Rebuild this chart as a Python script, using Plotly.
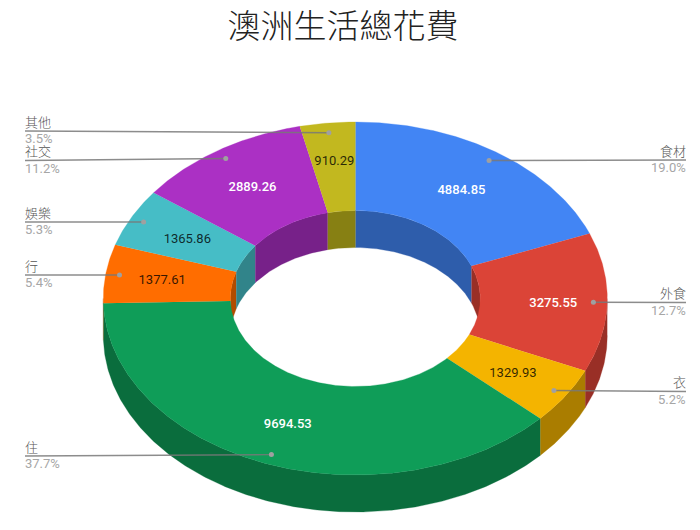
import numpy as np
import plotly.graph_objects as go

# data
categories = ["食材", "外食", "衣", "住", "行", "娛樂", "社交", "其他"]
values = [4884.85, 3275.55, 1329.93, 9694.53, 1377.61, 1365.86, 2889.26, 910.29]
value_labels = ["4884.85", "3275.55", "1329.93", "9694.53", "1377.61", "1365.86", "2889.26", "910.29"]
percent_labels = ["19.0%", "12.7%", "5.2%", "37.7%", "5.4%", "5.3%", "11.2%", "3.5%"]
title_text = "澳洲生活總花費"

# styles
face_colors = ["#4285f4", "#db4437", "#f4b400", "#0f9d58", "#ff6d00", "#46bdc6", "#ab30c4", "#c2b81f"]
wall_colors = ["#2e5dab", "#992f26", "#aa7d00", "#0a6d3d", "#b24c00", "#31848a", "#772189", "#878013"]
value_colors = ["#ffffff", "#ffffff", "rgba(0,0,0,0.8)", "#ffffff", "rgba(0,0,0,0.8)", "rgba(0,0,0,0.8)", "#ffffff", "rgba(0,0,0,0.8)"]

# geometry (px)
CX, CY = 355.3, 298.5
RX, RY = 252.0, 176.5
HOLE_RX, HOLE_RY = 125.0, 88.0
DEPTH = 37.0
LABEL_F, DOT_F = 0.75, 0.945
LEFT_X, RIGHT_X = 25, 686
label_sides = ["r", "r", "r", "l", "l", "l", "l", "l"]
label_line_y = [160, 302.5, 391.5, 456, 275, 222, 160.5, 131]
value_nudge_x = [0, 9, 0, -1, -6, 0, 0, 0]
value_nudge_y = [2, 2, 2, 2, 1, 2, 0, -5]


def pt(theta, rx, ry, dy=0.0):
    t = np.radians(theta)
    return CX + rx * np.sin(t), CY - ry * np.cos(t) + dy


def arc(a, b, rx, ry, dy=0.0):
    n = max(2, int(abs(b - a) * 2) + 2)
    return pt(np.linspace(a, b, n), rx, ry, dy)


total = sum(values)
edges = np.concatenate([[0.0], np.cumsum(values) / total * 360.0])

fig = go.Figure()


def poly(xs, ys, color):
    fig.add_trace(go.Scatter(x=np.asarray(xs), y=np.asarray(ys), mode="lines", fill="toself",
                             fillcolor=color, line=dict(color=color, width=0.3),
                             hoverinfo="skip", showlegend=False))


# outer walls: front half, 90..270
for i in range(len(values)):
    a, b = max(edges[i], 90.0), min(edges[i + 1], 270.0)
    if b > a:
        x1, y1 = arc(a, b, RX, RY)
        x2, y2 = arc(b, a, RX, RY, DEPTH)
        poly(np.r_[x1, x2], np.r_[y1, y2], wall_colors[i])

# inner walls: back half of the hole, 270..360 and 0..90
for i in range(len(values)):
    for lo, hi in ((0.0, 90.0), (270.0, 360.0)):
        a, b = max(edges[i], lo), min(edges[i + 1], hi)
        if b > a:
            x1, y1 = arc(a, b, HOLE_RX, HOLE_RY)
            x2, y2 = arc(b, a, HOLE_RX, HOLE_RY, DEPTH)
            poly(np.r_[x1, x2], np.r_[y1, y2], wall_colors[i])

# top faces
for i in range(len(values)):
    a, b = edges[i], edges[i + 1]
    x1, y1 = arc(a, b, RX, RY)
    x2, y2 = arc(b, a, HOLE_RX, HOLE_RY)
    poly(np.r_[x1, x2], np.r_[y1, y2], face_colors[i])

mids = (edges[:-1] + edges[1:]) / 2

# leader lines and dots
for i, m in enumerate(mids):
    dx, dy = pt(m, RX * DOT_F, RY * DOT_F)
    ex = RIGHT_X if label_sides[i] == "r" else LEFT_X
    fig.add_trace(go.Scatter(x=[ex, dx], y=[label_line_y[i], dy], mode="lines",
                             line=dict(color="rgba(120,120,120,0.85)", width=1.4),
                             hoverinfo="skip", showlegend=False))
    fig.add_trace(go.Scatter(x=[dx], y=[dy], mode="markers",
                             marker=dict(color="#a0a0a0", size=5),
                             hoverinfo="skip", showlegend=False))

# values on the ring
for i, m in enumerate(mids):
    tx, ty = pt(m, RX * LABEL_F, RY * LABEL_F)
    white = value_colors[i] == "#ffffff"
    fig.add_trace(go.Scatter(x=[tx + value_nudge_x[i]], y=[ty + value_nudge_y[i]], mode="text",
                             text=[value_labels[i]], textposition="middle center",
                             textfont=dict(family="Roboto", size=13, color=value_colors[i],
                                           weight=500 if white else 400),
                             hoverinfo="skip", showlegend=False))

# outside labels
annotations = []
for i in range(len(values)):
    right = label_sides[i] == "r"
    ex = RIGHT_X if right else LEFT_X
    anchor = "right" if right else "left"
    annotations.append(dict(x=ex, y=label_line_y[i] - 10, text=categories[i], showarrow=False,
                            xanchor=anchor, yanchor="middle", borderpad=0, xshift=1 if right else -1,
                            font=dict(family="Noto Sans CJK TC", size=13, color="#555555", weight=300)))
    annotations.append(dict(x=ex, y=label_line_y[i] + 7.5, text=percent_labels[i], showarrow=False,
                            xanchor=anchor, yanchor="middle", borderpad=0, xshift=1 if right else -1,
                            font=dict(family="Roboto", size=13, color="#a6a6a6")))

fig.update_layout(
    width=700, height=530, autosize=False,
    margin=dict(l=0, r=0, t=0, b=0),
    paper_bgcolor="white", plot_bgcolor="white",
    title=dict(text=title_text, x=343 / 700, y=1 - 26 / 530, xanchor="center", yanchor="middle",
               xref="paper", yref="paper",
               font=dict(family="Noto Sans CJK TC", size=33, color="#222222", weight=300)),
    xaxis=dict(range=[0, 700], visible=False, fixedrange=True),
    yaxis=dict(range=[530, 0], visible=False, fixedrange=True),
    annotations=annotations,
)

fig.write_html("out.html", config=dict(displayModeBar=False),
               post_script="document.body.style.margin='0';")
